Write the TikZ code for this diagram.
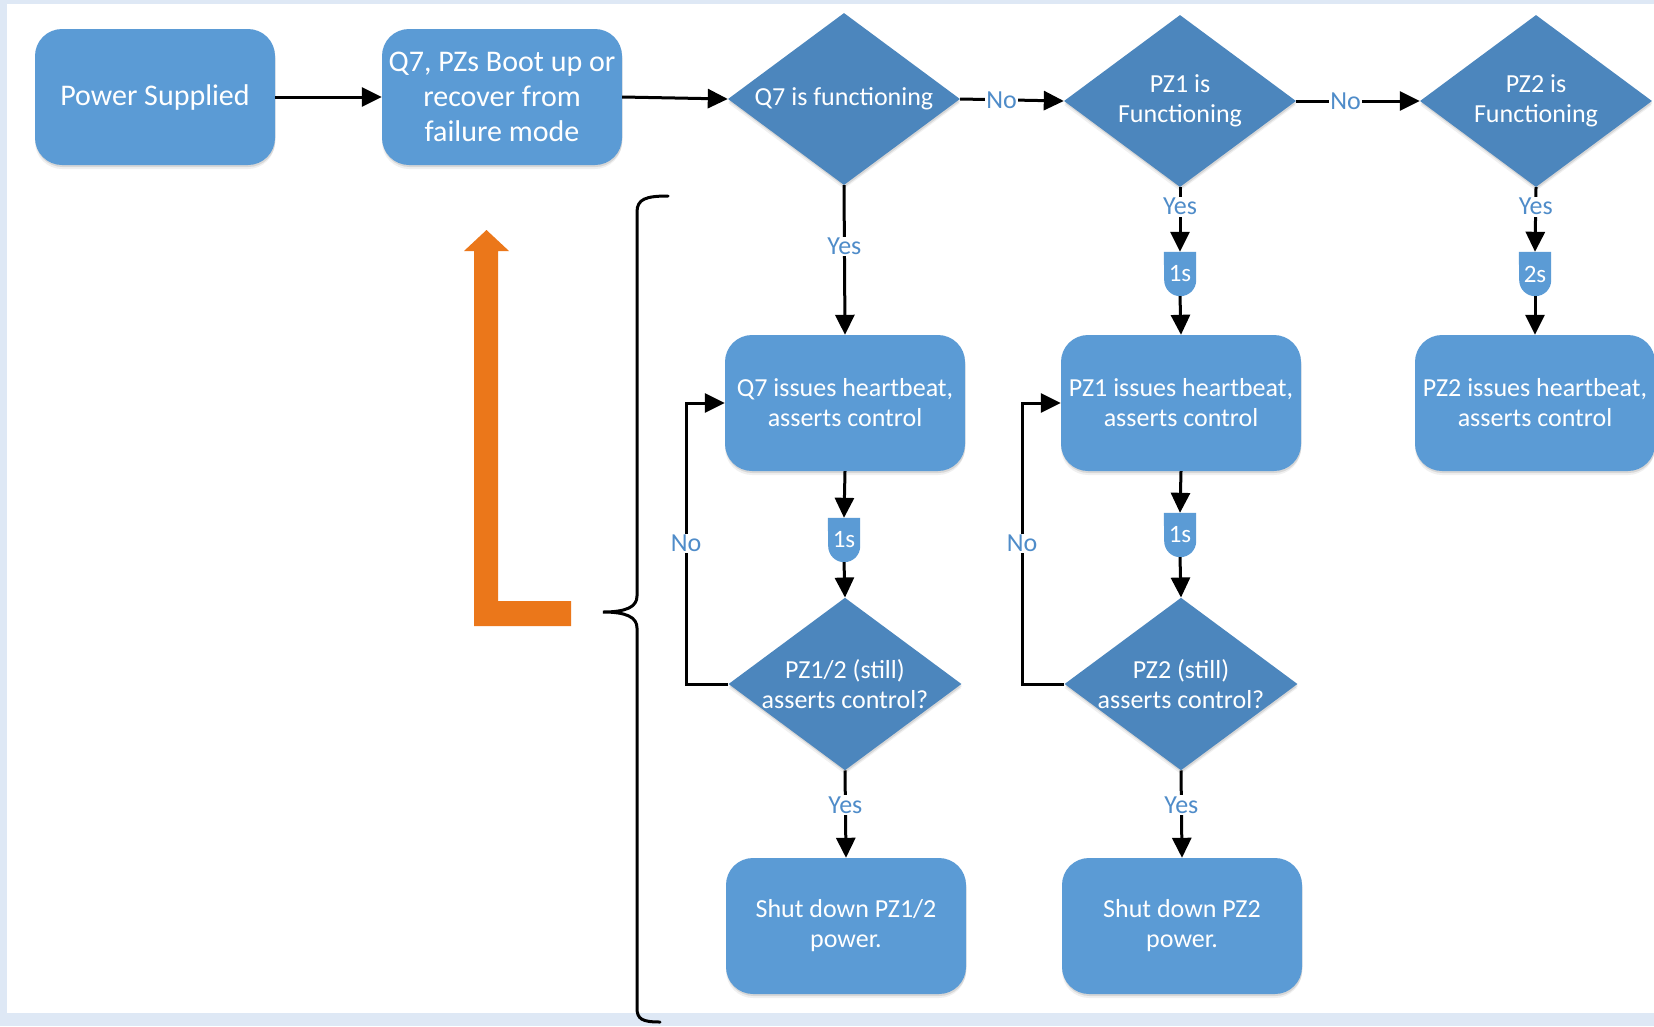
\documentclass[tikz,border=0pt]{standalone}
\usepackage{fontspec}
\setmainfont{Carlito}
\usetikzlibrary{shapes.geometric, arrows.meta, backgrounds, shadows}

\definecolor{boxblue}{RGB}{91,155,213}
\definecolor{diablue}{RGB}{76,134,189}
\definecolor{lblblue}{RGB}{79,140,201}
\definecolor{bandblue}{RGB}{222,232,245}
\definecolor{loopor}{RGB}{235,119,26}

\tikzset{
  softshadow/.style={
      drop shadow={shadow xshift=0pt, shadow yshift=-4pt, opacity=0.06, fill=black},
      drop shadow={shadow xshift=0.5pt, shadow yshift=-2pt, opacity=0.10, fill=black}},
  boxnode/.style={rectangle, rounded corners=27pt, fill=boxblue, text=white,
      minimum width=240pt, minimum height=136pt, align=center, inner sep=2pt,
      softshadow, font=\fontsize{26}{30}\selectfont},
  bigtxt/.style={font=\fontsize{30}{35}\selectfont},
  decision/.style={diamond, shape aspect=1.35, fill=diablue, text=white,
      minimum width=232pt, minimum height=172pt, inner sep=0pt, align=center,
      softshadow, font=\fontsize{26}{30}\selectfont},
  delaynode/.style={rectangle, minimum width=32pt, minimum height=44pt,
      inner sep=0pt, text=white, font=\fontsize{25}{26}\selectfont},
  link/.style={line width=3pt},
  arr/.style={link, -{Triangle[length=20pt,width=19pt]}},
  lbl/.style={fill=white, text=lblblue, inner sep=1.5pt,
      font=\fontsize{26}{29}\selectfont},
}

\begin{document}
\begin{tikzpicture}[x=1pt,y=-1pt]
\useasboundingbox (0,0) rectangle (1654,1026);

% page: pale blue band with white sheet on top
\begin{scope}[on background layer]
  \fill[bandblue] (0,0) rectangle (1654,1026);
  \fill[white] (7,4) rectangle (1654,1013);
\end{scope}

% top row
\node[boxnode, bigtxt] (ps) at (155,97) {Power Supplied};
\node[boxnode, bigtxt] (boot) at (502,97) {Q7, PZs Boot up or\\recover from\\failure mode};
\node[decision] (q7d) at (844,99) {Q7 is functioning};
\node[decision] (pz1d) at (1180,101) {PZ1 is\\Functioning};
\node[decision] (pz2d) at (1536,101) {PZ2 is\\Functioning};

% start-up delays
\node[delaynode] (d1) at (1180,274) {1s};
\node[delaynode] (d2) at (1535,274) {2s};

% heartbeat boxes
\node[boxnode] (q7hb) at (845,403) {Q7 issues heartbeat,\\asserts control};
\node[boxnode] (pz1hb) at (1181,403) {PZ1 issues heartbeat,\\asserts control};
\node[boxnode] (pz2hb) at (1535,403) {PZ2 issues heartbeat,\\asserts control};

% heartbeat delays
\node[delaynode] (d3) at (844,540) {1s};
\node[delaynode] (d4) at (1180,535) {1s};

% control checks
\node[decision] (q7c) at (845,684) {PZ1/2 (still)\\asserts control?};
\node[decision] (pz2c) at (1181,684) {PZ2 (still)\\asserts control?};

% shut-down boxes
\node[boxnode] (sd1) at (846,926) {Shut down PZ1/2\\power.};
\node[boxnode] (sd2) at (1182,926) {Shut down PZ2\\power.};

% delay shapes: flat top, round bottom
\begin{scope}[on background layer]
  \foreach \d in {d1,d2,d3,d4}
    \fill[boxblue] (\d.north west) -- (\d.north east)
      -- ([yshift=16pt]\d.south east) arc[start angle=0, end angle=-180, radius=16pt]
      -- cycle;
\end{scope}

% loop-back corners
\coordinate (lp1) at (686,684);
\coordinate (lp2) at (1022,684);

% connectors
\draw[arr] (ps) -- (boot);
\draw[arr] (boot.east) -- (q7d.west);
\draw[arr] (q7d.east) -- node[lbl, pos=0.4] {No} (pz1d.west);
\draw[arr] (pz1d.east) -- node[lbl, pos=0.4] {No} (pz2d.west);

\draw[arr] (q7d.south) -- node[lbl, pos=0.41] {Yes} (q7hb.north);
\draw[arr] (pz1d.south) -- node[lbl, pos=0.3] {Yes} (d1.north);
\draw[arr] (pz2d.south) -- node[lbl, pos=0.3] {Yes} (d2.north);
\draw[arr] (d1.south) -- (pz1hb.north);
\draw[arr] (d2.south) -- (pz2hb.north);

\draw[arr] (q7hb.south) -- (d3.north);
\draw[arr] (d3.south) -- (q7c.north);
\draw[arr] (pz1hb.south) -- (d4.north);
\draw[arr] (d4.south) -- (pz2c.north);

\draw[arr] (q7c.south) -- node[lbl, pos=0.4] {Yes} (sd1.north);
\draw[arr] (pz2c.south) -- node[lbl, pos=0.4] {Yes} (sd2.north);

\draw[arr] (q7c.west) -- (lp1) -- node[lbl, pos=0.5] {No} (lp1 |- q7hb.west) -- (q7hb.west);
\draw[arr] (pz2c.west) -- (lp2) -- node[lbl, pos=0.5] {No} (lp2 |- pz1hb.west) -- (pz1hb.west);

% curly brace spanning the loop section
\draw[link, line cap=round]
  (668,196) .. controls (646,196) and (637,199) .. (637,212)
  -- (637,596) .. controls (637,607) and (626,612) .. (603,612)
  .. controls (626,612) and (637,617) .. (637,628)
  -- (637,1008) .. controls (637,1019) and (642,1022) .. (660,1022);

% orange L-shaped arrow
\fill[loopor] (474,626) -- (474,251) -- (464,251) -- (486.5,230) -- (509,251)
  -- (498,251) -- (498,601) -- (571,601) -- (571,626) -- cycle;

\end{tikzpicture}
\end{document}
